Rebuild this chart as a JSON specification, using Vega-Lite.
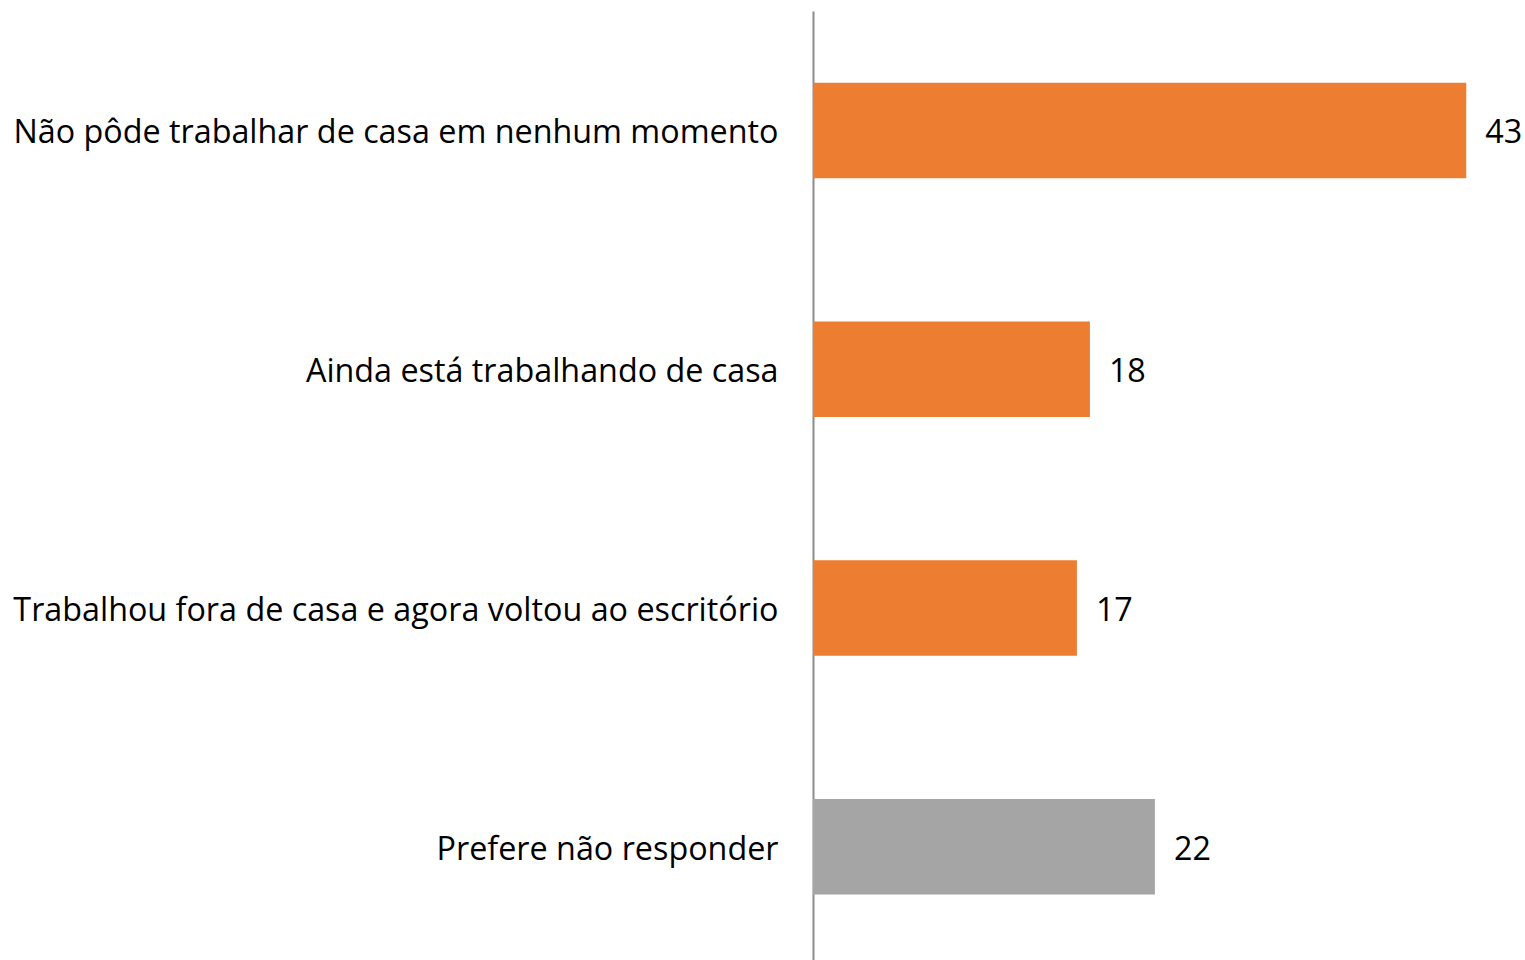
{
  "$schema": "https://vega.github.io/schema/vega-lite/v6.json",
  "width": 712,
  "height": 955,
  "autosize": {"type": "none"},
  "padding": {"left": 813, "top": 11, "right": 0, "bottom": 0},
  "background": "white",
  "config": {"view": {"stroke": null}, "font": "Open Sans"},
  "data": {"values": [
    {"cat": "Não pôde trabalhar de casa em nenhum momento", "value": 42.7, "group": "a"},
    {"cat": "Ainda está trabalhando de casa", "value": 18.1, "group": "a"},
    {"cat": "Trabalhou fora de casa e agora voltou ao escritório", "value": 17.25, "group": "a"},
    {"cat": "Prefere não responder", "value": 22.35, "group": "b"}
  ]},
  "encoding": {
    "y": {"field": "cat", "type": "nominal", "sort": null,
      "scale": {"paddingInner": 0.6, "paddingOuter": 0.3},
      "axis": {"title": null, "ticks": false, "labelPadding": 35, "labelOffset": 3, "labelFontSize": 32.3, "labelColor": "#000000", "labelLimit": 900, "domainColor": "#8c8c8c", "domainWidth": 2, "labelFont": "Open Sans"}},
    "x": {"field": "value", "type": "quantitative", "scale": {"domain": [0, 46.54], "nice": false}, "axis": null}
  },
  "layer": [
    {"mark": {"type": "bar"},
     "encoding": {"color": {"field": "group", "type": "nominal", "scale": {"domain": ["a", "b"], "range": ["#ED7D31", "#A5A5A5"]}, "legend": null}}},
    {"mark": {"type": "text", "align": "left", "dx": 19, "dy": 3, "fontSize": 32.3, "color": "#000000", "font": "Open Sans"},
     "encoding": {"text": {"field": "value", "type": "quantitative", "format": ".0f"}}}
  ]
}
